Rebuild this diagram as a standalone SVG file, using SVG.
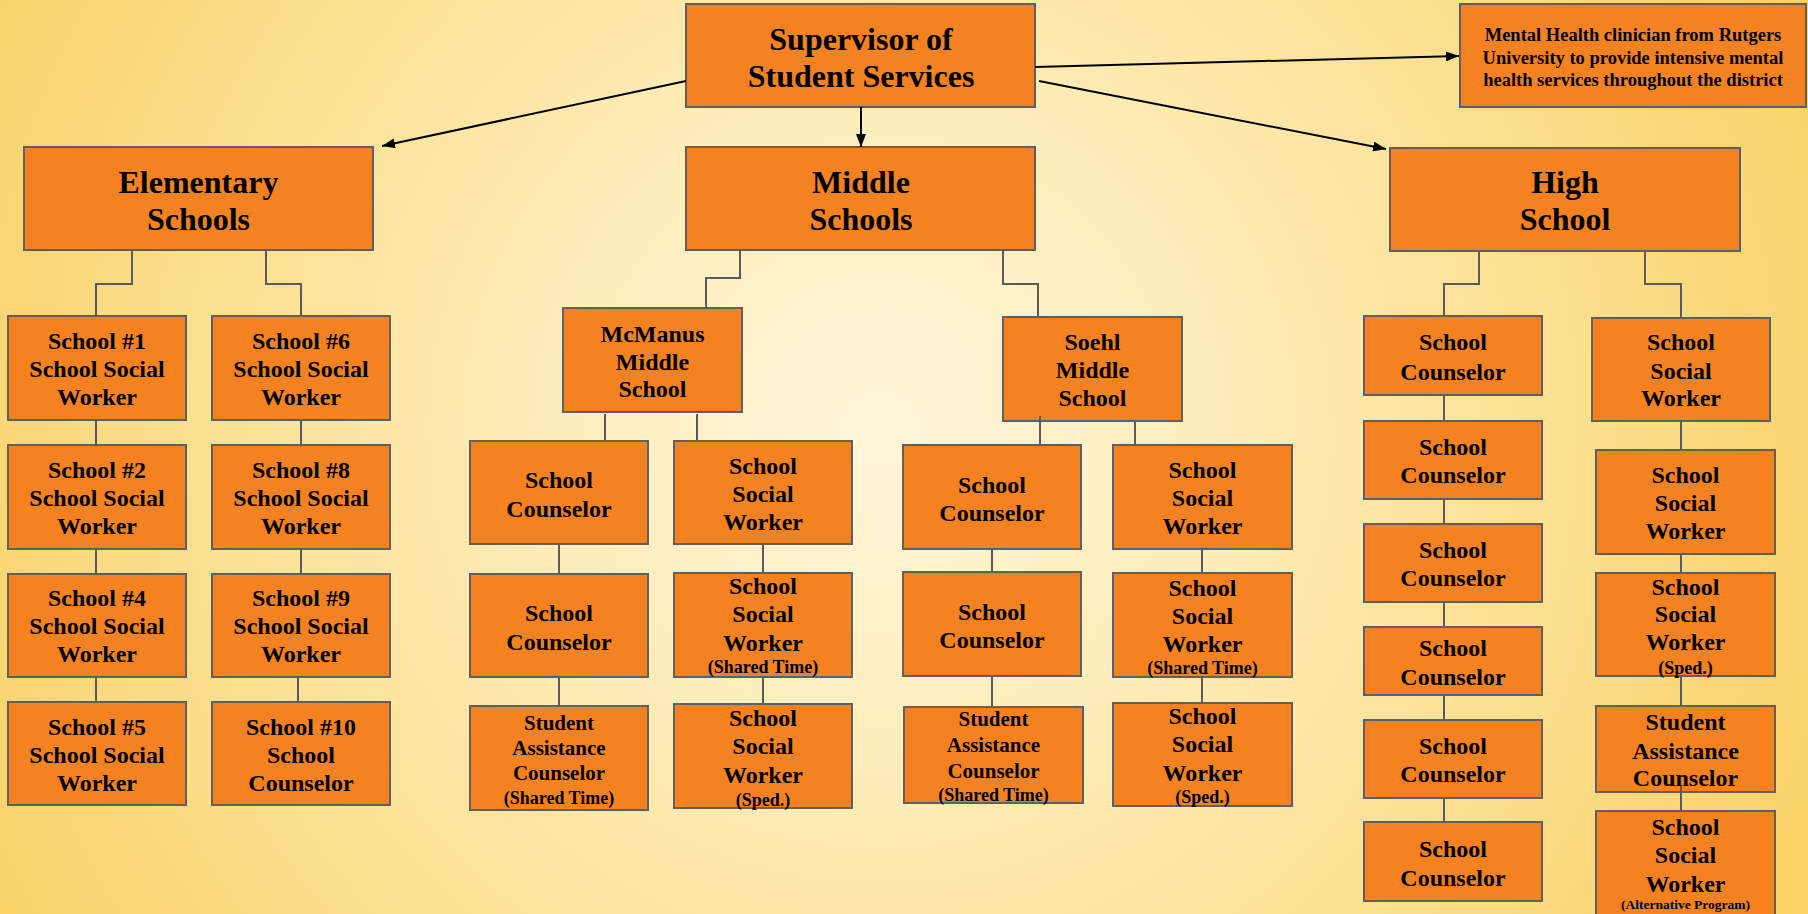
<svg xmlns="http://www.w3.org/2000/svg" width="1808" height="914" viewBox="0 0 1808 914">
<defs>
<radialGradient id="bg" gradientUnits="userSpaceOnUse" cx="880" cy="430" r="1000">
<stop offset="0" stop-color="#FFF6DA"/>
<stop offset="0.35" stop-color="#FEEDB9"/>
<stop offset="0.7" stop-color="#FCDF8E"/>
<stop offset="1" stop-color="#F9D368"/>
</radialGradient>
<marker id="ah" markerUnits="userSpaceOnUse" markerWidth="14" markerHeight="10" refX="13" refY="5" orient="auto">
<path d="M0,0 L13,5 L0,10 z" fill="#000"/>
</marker>
</defs>
<style>
.b{fill:#F58220;stroke:#606060;stroke-width:2}
text{font-family:"Liberation Serif","Times New Roman",serif;font-weight:bold;fill:#000;text-anchor:middle}
.t{font-size:32px}
.m{font-size:18.5px}
.n{font-size:24px}
.a{font-size:21px}
.s{font-size:18px}
.x{font-size:13.5px}
.c{fill:none;stroke:#5b5b5b;stroke-width:2}
.r{fill:none;stroke:#000;stroke-width:2;marker-end:url(#ah)}
</style>
<rect width="1808" height="914" fill="url(#bg)"/>

<g id="sup"><rect class="b" x="686" y="4" width="349" height="103"/><text class="t" x="861" y="50">Supervisor of</text><text class="t" x="861" y="87">Student Services</text></g>
<g id="mh"><rect class="b" x="1460" y="4" width="346" height="103"/><text class="m" x="1633" y="41">Mental Health clinician from Rutgers</text><text class="m" x="1633" y="63.5">University to provide intensive mental</text><text class="m" x="1633" y="86">health services throughout the district</text></g>
<g id="elem"><rect class="b" x="24" y="147" width="349" height="103"/><text class="t" x="198.5" y="193">Elementary</text><text class="t" x="198.5" y="230">Schools</text></g>
<g id="mid"><rect class="b" x="686" y="147" width="349" height="103"/><text class="t" x="861" y="193">Middle</text><text class="t" x="861" y="230">Schools</text></g>
<g id="high"><rect class="b" x="1390" y="148" width="350" height="103"/><text class="t" x="1565" y="193">High</text><text class="t" x="1565" y="230">School</text></g>

<g id="e1"><rect class="b" x="8" y="316" width="178" height="104"/><text class="n" x="97" y="349">School #1</text><text class="n" x="97" y="377">School Social</text><text class="n" x="97" y="405">Worker</text></g>
<g id="e2"><rect class="b" x="8" y="445" width="178" height="104"/><text class="n" x="97" y="478">School #2</text><text class="n" x="97" y="506">School Social</text><text class="n" x="97" y="534">Worker</text></g>
<g id="e4"><rect class="b" x="8" y="574" width="178" height="103"/><text class="n" x="97" y="606">School #4</text><text class="n" x="97" y="634">School Social</text><text class="n" x="97" y="662">Worker</text></g>
<g id="e5"><rect class="b" x="8" y="702" width="178" height="103"/><text class="n" x="97" y="735">School #5</text><text class="n" x="97" y="763">School Social</text><text class="n" x="97" y="791">Worker</text></g>
<g id="e6"><rect class="b" x="212" y="316" width="178" height="104"/><text class="n" x="301" y="349">School #6</text><text class="n" x="301" y="377">School Social</text><text class="n" x="301" y="405">Worker</text></g>
<g id="e8"><rect class="b" x="212" y="445" width="178" height="104"/><text class="n" x="301" y="478">School #8</text><text class="n" x="301" y="506">School Social</text><text class="n" x="301" y="534">Worker</text></g>
<g id="e9"><rect class="b" x="212" y="574" width="178" height="103"/><text class="n" x="301" y="606">School #9</text><text class="n" x="301" y="634">School Social</text><text class="n" x="301" y="662">Worker</text></g>
<g id="e10"><rect class="b" x="212" y="702" width="178" height="103"/><text class="n" x="301" y="735">School #10</text><text class="n" x="301" y="763">School</text><text class="n" x="301" y="791">Counselor</text></g>

<g id="mcm"><rect class="b" x="563" y="308" width="179" height="104"/><text class="n" x="652.5" y="342">McManus</text><text class="n" x="652.5" y="370">Middle</text><text class="n" x="652.5" y="397">School</text></g>
<g id="mc1"><rect class="b" x="470" y="441" width="178" height="103"/><text class="n" x="559" y="488">School</text><text class="n" x="559" y="517">Counselor</text></g>
<g id="mc2"><rect class="b" x="470" y="574" width="178" height="103"/><text class="n" x="559" y="621">School</text><text class="n" x="559" y="650">Counselor</text></g>
<g id="mc3"><rect class="b" x="470" y="706" width="178" height="104"/><text class="a" x="559" y="730">Student</text><text class="a" x="559" y="755">Assistance</text><text class="a" x="559" y="780">Counselor</text><text class="s" x="559" y="804">(Shared Time)</text></g>
<g id="mw1"><rect class="b" x="674" y="441" width="178" height="103"/><text class="n" x="763" y="474">School</text><text class="n" x="763" y="502">Social</text><text class="n" x="763" y="530">Worker</text></g>
<g id="mw2"><rect class="b" x="674" y="573" width="178" height="104"/><text class="n" x="763" y="594">School</text><text class="n" x="763" y="622">Social</text><text class="n" x="763" y="651">Worker</text><text class="s" x="763" y="673">(Shared Time)</text></g>
<g id="mw3"><rect class="b" x="674" y="704" width="178" height="104"/><text class="n" x="763" y="726">School</text><text class="n" x="763" y="754">Social</text><text class="n" x="763" y="783">Worker</text><text class="s" x="763" y="806">(Sped.)</text></g>

<g id="soehl"><rect class="b" x="1003" y="317" width="179" height="104"/><text class="n" x="1092.5" y="350">Soehl</text><text class="n" x="1092.5" y="378">Middle</text><text class="n" x="1092.5" y="406">School</text></g>
<g id="s1"><rect class="b" x="903" y="445" width="178" height="104"/><text class="n" x="992" y="492.5">School</text><text class="n" x="992" y="520.5">Counselor</text></g>
<g id="s2"><rect class="b" x="903" y="572" width="178" height="104"/><text class="n" x="992" y="620">School</text><text class="n" x="992" y="648">Counselor</text></g>
<g id="s3"><rect class="b" x="904" y="707" width="179" height="96"/><text class="a" x="993.5" y="726">Student</text><text class="a" x="993.5" y="752">Assistance</text><text class="a" x="993.5" y="778">Counselor</text><text class="s" x="993.5" y="801">(Shared Time)</text></g>
<g id="sw1"><rect class="b" x="1113" y="445" width="179" height="104"/><text class="n" x="1202.5" y="478">School</text><text class="n" x="1202.5" y="506">Social</text><text class="n" x="1202.5" y="534">Worker</text></g>
<g id="sw2"><rect class="b" x="1113" y="573" width="179" height="104"/><text class="n" x="1202.5" y="596">School</text><text class="n" x="1202.5" y="624">Social</text><text class="n" x="1202.5" y="652">Worker</text><text class="s" x="1202.5" y="674">(Shared Time)</text></g>
<g id="sw3"><rect class="b" x="1113" y="703" width="179" height="103"/><text class="n" x="1202.5" y="724">School</text><text class="n" x="1202.5" y="752">Social</text><text class="n" x="1202.5" y="781">Worker</text><text class="s" x="1202.5" y="803">(Sped.)</text></g>

<g id="h1"><rect class="b" x="1364" y="316" width="178" height="79"/><text class="n" x="1453" y="350">School</text><text class="n" x="1453" y="379.5">Counselor</text></g>
<g id="h2"><rect class="b" x="1364" y="421" width="178" height="78"/><text class="n" x="1453" y="455">School</text><text class="n" x="1453" y="483">Counselor</text></g>
<g id="h3"><rect class="b" x="1364" y="524" width="178" height="78"/><text class="n" x="1453" y="558">School</text><text class="n" x="1453" y="586">Counselor</text></g>
<g id="h4"><rect class="b" x="1364" y="627" width="178" height="68"/><text class="n" x="1453" y="656">School</text><text class="n" x="1453" y="684.5">Counselor</text></g>
<g id="h5"><rect class="b" x="1364" y="720" width="178" height="78"/><text class="n" x="1453" y="753.5">School</text><text class="n" x="1453" y="782">Counselor</text></g>
<g id="h6"><rect class="b" x="1364" y="822" width="178" height="79"/><text class="n" x="1453" y="857">School</text><text class="n" x="1453" y="885.5">Counselor</text></g>
<g id="hw1"><rect class="b" x="1592" y="318" width="178" height="103"/><text class="n" x="1681" y="350">School</text><text class="n" x="1681" y="378.5">Social</text><text class="n" x="1681" y="406">Worker</text></g>
<g id="hw2"><rect class="b" x="1596" y="450" width="179" height="104"/><text class="n" x="1685.5" y="483">School</text><text class="n" x="1685.5" y="511">Social</text><text class="n" x="1685.5" y="539">Worker</text></g>
<g id="hw3"><rect class="b" x="1596" y="573" width="179" height="103"/><text class="n" x="1685.5" y="594.5">School</text><text class="n" x="1685.5" y="622">Social</text><text class="n" x="1685.5" y="650">Worker</text><text class="s" x="1685.5" y="674">(Sped.)</text></g>
<g id="hw4"><rect class="b" x="1596" y="706" width="179" height="86"/><text class="n" x="1685.5" y="730">Student</text><text class="n" x="1685.5" y="758.5">Assistance</text><text class="n" x="1685.5" y="786">Counselor</text></g>
<g id="hw5"><rect class="b" x="1596" y="811" width="179" height="120"/><text class="n" x="1685.5" y="835">School</text><text class="n" x="1685.5" y="863">Social</text><text class="n" x="1685.5" y="892">Worker</text><text class="x" x="1685.5" y="909">(Alternative Program)</text></g>

<g id="connectors">
<line class="r" x1="686" y1="81" x2="382" y2="146"/>
<line class="r" x1="861" y1="107" x2="861" y2="147"/>
<line class="r" x1="1035" y1="67" x2="1459" y2="56"/>
<line class="r" x1="1039" y1="81" x2="1386" y2="149"/>
<path class="c" d="M132,250 V284 H96 V316 M266,250 V284 H301 V316 M96,420 V445 M96,549 V574 M96,677 V702 M301,420 V445 M301,549 V574 M298,677 V702"/>
<path class="c" d="M740,250 V278 H706 V308 M605,414 V441 M697,414 V441 M559,544 V574 M559,677 V706 M763,544 V573 M763,677 V704"/>
<path class="c" d="M1003,250 V284 H1038 V317 M1040,416 V445 M1135,421 V445 M992,549 V572 M992,676 V707 M1202,549 V573 M1202,677 V703"/>
<path class="c" d="M1479,251 V284 H1444 V316 M1645,251 V284 H1681 V318 M1444,395 V421 M1444,499 V524 M1444,602 V627 M1444,695 V720 M1444,798 V822 M1681,421 V450 M1681,554 V573 M1681,676 V706 M1681,786 V811"/>
</g>
</svg>
